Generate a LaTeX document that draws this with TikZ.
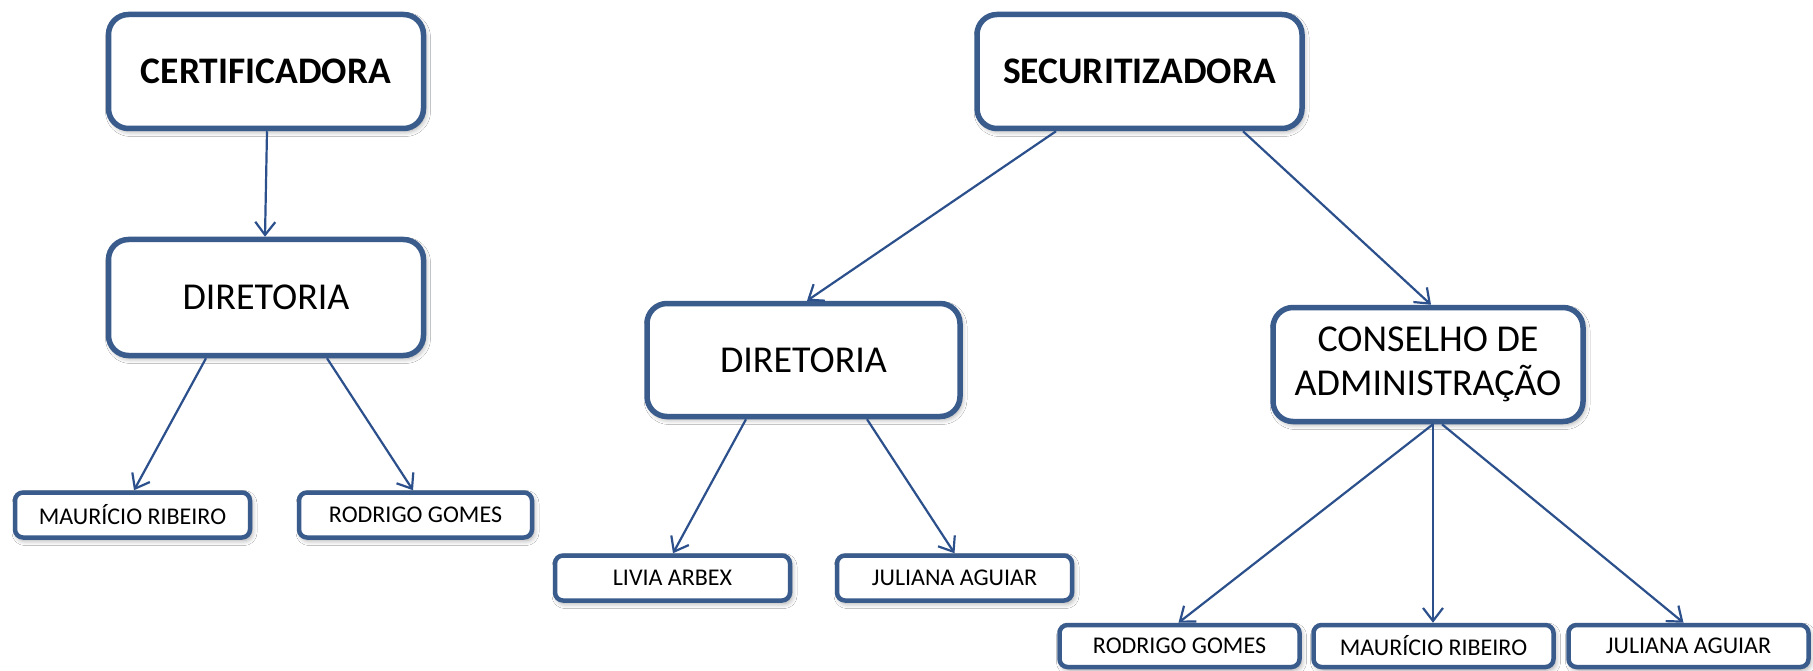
\documentclass[tikz,border=0pt]{standalone}
\usepackage{fontspec}
\setmainfont{Carlito}
\usetikzlibrary{arrows.meta,shadows.blur}
\definecolor{boxblue}{RGB}{58,92,140}
\definecolor{arrowblue}{RGB}{44,80,140}
\tikzset{
  shad/.style={blur shadow={shadow xshift=2pt,shadow yshift=-3pt,shadow blur steps=6,shadow opacity=35,shadow blur radius=5pt}},
  bigbox/.style={draw=boxblue,line width=5.5pt,rounded corners=20pt,fill=white,shad,
    minimum width=315pt,minimum height=114pt,inner sep=0pt,align=center,
    font=\fontsize{38}{44}\selectfont},
  smallbox/.style={draw=boxblue,line width=4.5pt,rounded corners=8pt,fill=white,shad,
    minimum width=235pt,minimum height=45pt,inner sep=0pt,
    font=\fontsize{24}{28}\selectfont},
  conn/.style={draw=arrowblue,line width=2.2pt,-{Straight Barb[length=13pt,width=20pt]}}
}
\begin{document}
\begin{tikzpicture}[x=1pt,y=-1pt]
\useasboundingbox[fill=white] (0,0) rectangle (1813,671);
% left tree
\node[bigbox,font=\fontsize{37.5}{44}\selectfont\bfseries] (cert) at (266,71.5) {CERTIFICADORA};
\node[bigbox,minimum height=116pt] (dirl) at (266,297.5) {DIRETORIA};
\node[smallbox] (maurl) at (132.5,515) {MAURÍCIO RIBEIRO};
\node[smallbox,minimum width=233pt] (rodl) at (415.5,515) {RODRIGO GOMES};
% right tree
\node[bigbox,minimum width=325pt,font=\fontsize{37.5}{44}\selectfont\bfseries] (sec) at (1139.5,71.5) {SECURITIZADORA};
\node[bigbox,minimum width=313pt,minimum height=113pt] (dirm) at (803.5,360) {DIRETORIA};
\node[bigbox,minimum width=310pt] (cons) at (1428,364.5) {CONSELHO DE\\ADMINISTRAÇÃO};
\node[smallbox] (livia) at (672.5,578) {LIVIA ARBEX};
\node[smallbox] (julm) at (954.5,578) {JULIANA AGUIAR};
\node[smallbox,minimum width=240pt,minimum height=42pt] (rodr) at (1179.5,646) {RODRIGO GOMES};
\node[smallbox,minimum width=240pt,minimum height=42pt] (maurr) at (1433.5,646) {MAURÍCIO RIBEIRO};
\node[smallbox,minimum width=240pt,minimum height=42pt] (julr) at (1688.5,646) {JULIANA AGUIAR};
% connectors
\draw[conn] ([xshift=1pt]cert.south) -- ([xshift=-1pt]dirl.north);
\draw[conn] ([xshift=-60pt]dirl.south) -- ([xshift=1.5pt]maurl.north);
\draw[conn] ([xshift=61pt]dirl.south) -- ([xshift=-2.5pt]rodl.north);
\draw[conn] ([xshift=-83.5pt]sec.south) -- ([xshift=3.5pt]dirm.north);
\draw[conn] ([xshift=103.5pt]sec.south) -- ([xshift=3pt]cons.north);
\draw[conn] ([xshift=-57.5pt]dirm.south) -- ([xshift=0.5pt]livia.north);
\draw[conn] ([xshift=63.5pt]dirm.south) -- (julm.north);
\draw[conn] ([xshift=5pt]cons.south) -- ([xshift=-1pt]rodr.north);
\draw[conn] ([xshift=5pt]cons.south) -- ([xshift=-0.5pt]maurr.north);
\draw[conn] ([xshift=14pt]cons.south) -- ([xshift=-5pt]julr.north);
\end{tikzpicture}
\end{document}
